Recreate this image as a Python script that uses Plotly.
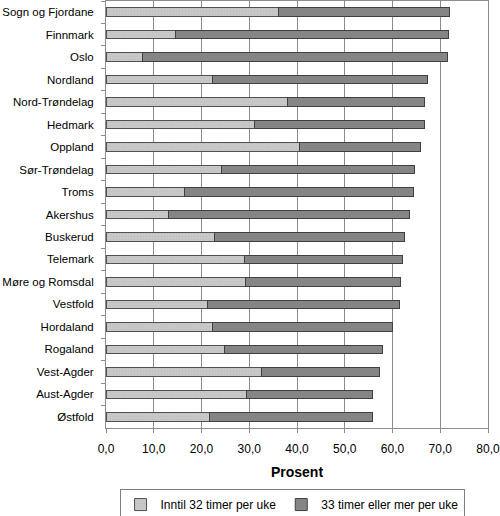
import plotly.graph_objects as go

# Fylker, top to bottom as in the chart
fylker = [
    "Sogn og Fjordane", "Finnmark", "Oslo", "Nordland", "Nord-Trøndelag",
    "Hedmark", "Oppland", "Sør-Trøndelag", "Troms", "Akershus", "Buskerud",
    "Telemark", "Møre og Romsdal", "Vestfold", "Hordaland", "Rogaland",
    "Vest-Agder", "Aust-Agder", "Østfold",
]

# Share working up to 32 hours per week (%)
inntil_32 = [36.2, 14.5, 7.7, 22.4, 38.0, 31.1, 40.5, 24.2, 16.4, 13.1, 22.8,
             29.0, 29.3, 21.2, 22.3, 24.8, 32.5, 29.5, 21.6]
# Share working 33 hours or more per week (%)
over_33 = [35.8, 57.2, 63.8, 45.0, 28.7, 35.6, 25.3, 40.5, 48.1, 50.4, 39.7,
           33.1, 32.4, 40.3, 37.7, 33.1, 24.7, 26.3, 34.2]

x_ticks = [0, 10, 20, 30, 40, 50, 60, 70, 80]

FONT = "Liberation Sans, Arial, sans-serif"

fig = go.Figure()
fig.add_trace(go.Bar(
    y=fylker, x=inntil_32, orientation="h", name="Inntil 32 timer per uke",
    marker=dict(color="#c8c8c8", line=dict(color="#505050", width=1),
                pattern=dict(shape=".", fgcolor="#b8b8b8", size=3, solidity=0.25)),
))
fig.add_trace(go.Bar(
    y=fylker, x=over_33, orientation="h", name="33 timer eller mer per uke",
    marker=dict(color="#858585", line=dict(color="#404040", width=1)),
))

fig.update_layout(
    width=500, height=516,
    barmode="stack", bargap=0.62,
    separators=",.",
    paper_bgcolor="white", plot_bgcolor="white",
    font=dict(family=FONT, size=12, color="black"),
    margin=dict(l=106, r=12, t=1, b=88, autoexpand=False),
    showlegend=True,
    legend=dict(
        orientation="h", traceorder="normal",
        x=0.487, xanchor="center", y=-0.143, yanchor="top",
        bordercolor="#808080", borderwidth=1,
        font=dict(size=12), itemwidth=30, tracegroupgap=0,
    ),
    xaxis=dict(
        range=[0, 80], tickvals=x_ticks, tickformat=".1f",
        showgrid=True, gridcolor="#8c8c8c", gridwidth=1,
        ticks="outside", ticklen=4, tickcolor="#8c8c8c",
        showline=True, linecolor="#8c8c8c", mirror=True,
        zeroline=False, automargin=False, ticklabelstandoff=6,
        ticklabeloverflow="allow",
        title=dict(text="<b>Prosent</b>", font=dict(size=14), standoff=11),
    ),
    yaxis=dict(
        autorange="reversed", categoryorder="array", categoryarray=fylker,
        ticks="outside", ticklen=4, tickcolor="#8c8c8c", tickson="boundaries",
        showline=True, linecolor="#8c8c8c", mirror=True,
        showgrid=False, automargin=False, ticklabelstandoff=9,
        ticklabeloverflow="allow", tickfont=dict(size=11.5),
    ),
)

# the page body has a default 8px margin; drop it so the figure sits at 0,0
fig.write_html("out.html", config={"displayModeBar": False},
               post_script="document.body.style.margin='0px';")
